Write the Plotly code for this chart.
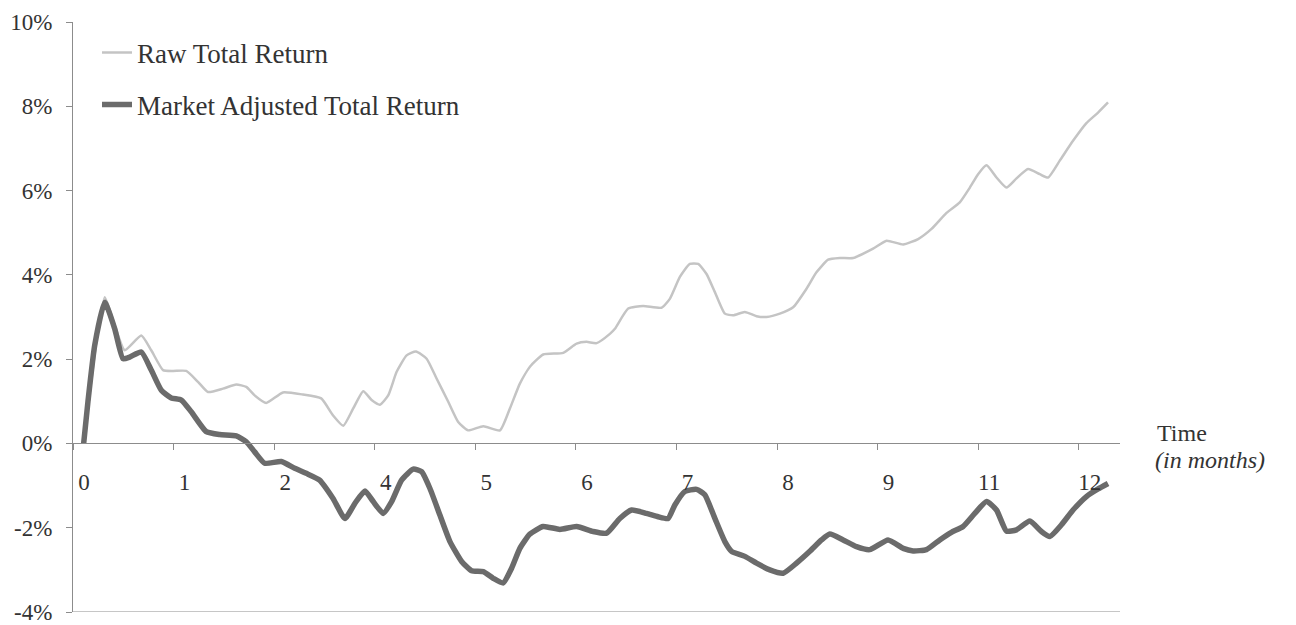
import plotly.graph_objects as go

# x values are positions along the time axis, in tick-index units (tick k at k)
raw_x = [0.106, 0.315, 0.415, 0.514, 0.679, 0.778, 0.895, 0.994, 1.126, 1.243, 1.342, 1.491,
         1.623, 1.723, 1.806, 1.921, 2.087, 2.286, 2.468, 2.584, 2.687, 2.786, 2.886, 2.969,
         3.052, 3.134, 3.218, 3.317, 3.410, 3.516, 3.615, 3.731, 3.830, 3.929, 4.079, 4.245,
         4.344, 4.443, 4.543, 4.675, 4.874, 5.007, 5.106, 5.206, 5.338, 5.388, 5.520, 5.669,
         5.852, 5.934, 6.034, 6.133, 6.216, 6.299, 6.382, 6.481, 6.564, 6.680, 6.796, 6.896,
         7.028, 7.160, 7.293, 7.392, 7.508, 7.624, 7.757, 7.955, 8.089, 8.254, 8.403, 8.536,
         8.685, 8.817, 8.917, 8.999, 9.083, 9.182, 9.281, 9.381, 9.496, 9.612, 9.695, 9.811,
         9.943, 10.076, 10.192, 10.291]
raw_y = [0.00, 3.47, 2.80, 2.21, 2.56, 2.21, 1.74, 1.72, 1.72, 1.46, 1.22, 1.30,
         1.40, 1.34, 1.14, 0.96, 1.21, 1.16, 1.07, 0.67, 0.42, 0.83, 1.24, 1.03,
         0.92, 1.14, 1.70, 2.09, 2.18, 2.01, 1.54, 0.99, 0.51, 0.31, 0.41, 0.31,
         0.83, 1.42, 1.82, 2.11, 2.15, 2.37, 2.41, 2.38, 2.60, 2.72, 3.20, 3.26,
         3.22, 3.43, 3.95, 4.26, 4.26, 4.02, 3.59, 3.08, 3.04, 3.12, 3.02, 3.00,
         3.08, 3.23, 3.67, 4.06, 4.36, 4.40, 4.40, 4.62, 4.81, 4.72, 4.85, 5.09,
         5.47, 5.72, 6.07, 6.39, 6.60, 6.31, 6.07, 6.29, 6.51, 6.39, 6.31, 6.71,
         7.18, 7.60, 7.85, 8.09]

adj_x = [0.106, 0.149, 0.216, 0.315, 0.415, 0.497, 0.564, 0.679, 0.778, 0.878, 0.977, 1.077,
         1.176, 1.325, 1.458, 1.623, 1.723, 1.806, 1.906, 2.071, 2.204, 2.319, 2.452, 2.584,
         2.704, 2.803, 2.903, 2.985, 3.084, 3.168, 3.267, 3.383, 3.466, 3.549, 3.648, 3.748,
         3.864, 3.963, 4.079, 4.178, 4.277, 4.361, 4.443, 4.543, 4.675, 4.841, 5.007, 5.172,
         5.305, 5.437, 5.554, 5.703, 5.818, 5.917, 5.984, 6.083, 6.200, 6.282, 6.382, 6.481,
         6.548, 6.680, 6.796, 6.928, 7.061, 7.194, 7.326, 7.442, 7.525, 7.657, 7.790, 7.922,
         8.104, 8.254, 8.353, 8.486, 8.618, 8.734, 8.850, 8.966, 9.083, 9.182, 9.281, 9.381,
         9.513, 9.629, 9.712, 9.828, 9.943, 10.076, 10.192, 10.291]
adj_y = [0.00, 1.00, 2.33, 3.35, 2.72, 2.01, 2.05, 2.17, 1.74, 1.26, 1.08, 1.03,
         0.75, 0.28, 0.21, 0.18, 0.04, -0.20, -0.47, -0.43, -0.59, -0.71, -0.87, -1.30,
         -1.78, -1.42, -1.13, -1.38, -1.66, -1.38, -0.87, -0.61, -0.67, -1.07, -1.70, -2.33,
         -2.80, -3.02, -3.04, -3.20, -3.31, -2.96, -2.49, -2.15, -1.97, -2.04, -1.97, -2.09,
         -2.13, -1.78, -1.58, -1.66, -1.74, -1.78, -1.46, -1.14, -1.09, -1.22, -1.78, -2.33,
         -2.56, -2.68, -2.84, -3.00, -3.08, -2.84, -2.56, -2.29, -2.15, -2.29, -2.45, -2.52,
         -2.29, -2.49, -2.55, -2.52, -2.29, -2.11, -1.97, -1.66, -1.38, -1.58, -2.08, -2.05,
         -1.84, -2.09, -2.21, -1.93, -1.58, -1.26, -1.08, -0.95]

x_tickvals = [0, 1, 2, 3, 4, 5, 6, 7, 8, 9, 10]
x_ticktext = ["0", "1", "2", "4", "5", "6", "7", "8", "9", "11", "12"]
y_tickvals = [-4, -2, 0, 2, 4, 6, 8, 10]
y_ticktext = ["-4%", "-2%", "0%", "2%", "4%", "6%", "8%", "10%"]

FONT = "Liberation Serif"
AXIS = "#8c8c8c"
TEXT = "#333333"

FIG_W, FIG_H = 1288, 617
M_L, M_R, M_T, M_B = 65, 176, 14, 13
PLOT_W = FIG_W - M_L - M_R
PLOT_H = FIG_H - M_T - M_B
TOP = M_T + 8  # page offset of the plot top (page body margin is 8px)


def ypaper(page_y):
    return 1 - (page_y - TOP) / PLOT_H


fig = go.Figure()
fig.add_trace(go.Scatter(x=raw_x, y=raw_y, mode="lines", name="Raw Total Return",
                         line=dict(color="#c4c4c4", width=2.5, shape="spline", smoothing=0.5),
                         legend="legend"))
fig.add_trace(go.Scatter(x=adj_x, y=adj_y, mode="lines", name="Market Adjusted Total Return",
                         line=dict(color="#6b6b6b", width=5.5, shape="spline", smoothing=0.5),
                         legend="legend2"))

fig.update_layout(
    width=FIG_W, height=FIG_H,
    margin=dict(l=M_L, r=M_R, t=M_T, b=M_B),
    paper_bgcolor="white", plot_bgcolor="white",
    font=dict(family=FONT, size=23, color=TEXT),
    showlegend=True,
    legend=dict(x=24 / PLOT_W, y=ypaper(53), xanchor="left", yanchor="middle",
                bgcolor="rgba(0,0,0,0)", font=dict(family=FONT, size=27, color=TEXT)),
    legend2=dict(x=24 / PLOT_W, y=ypaper(105), xanchor="left", yanchor="middle",
                 bgcolor="rgba(0,0,0,0)", font=dict(family=FONT, size=27, color=TEXT)),
    xaxis=dict(range=[0, 10.41], tickvals=x_tickvals, ticktext=x_ticktext,
               showgrid=False, zeroline=False, showline=True, linecolor=AXIS, linewidth=1,
               ticks="outside", ticklen=6, tickcolor=AXIS, anchor="free", position=4 / 14,
               ticklabelstandoff=12, ticklabelshift=11, automargin=False,
               tickfont=dict(family=FONT, size=23, color=TEXT)),
    yaxis=dict(range=[-4, 10], tickvals=y_tickvals, ticktext=y_ticktext,
               showgrid=False, zeroline=False, showline=True, linecolor=AXIS, linewidth=1,
               ticks="outside", ticklen=6, tickcolor=AXIS, ticklabelstandoff=9,
               ticklabeloverflow="allow",
               automargin=False, tickfont=dict(family=FONT, size=23, color=TEXT)),
    shapes=[dict(type="line", xref="paper", yref="y", x0=0, x1=1, y0=-4, y1=-4,
                 line=dict(color=AXIS, width=1))],
    annotations=[
        dict(text="Time", xref="paper", yref="y", x=(1182 - 73) / PLOT_W, y=0.24,
             showarrow=False, xanchor="center", yanchor="middle",
             font=dict(family=FONT, size=24, color=TEXT)),
        dict(text="<i>(in months)</i>", xref="paper", yref="y", x=(1210 - 73) / PLOT_W, y=-0.40,
             showarrow=False, xanchor="center", yanchor="middle",
             font=dict(family=FONT, size=24, color=TEXT)),
    ],
)

fig.write_html("out.html")
